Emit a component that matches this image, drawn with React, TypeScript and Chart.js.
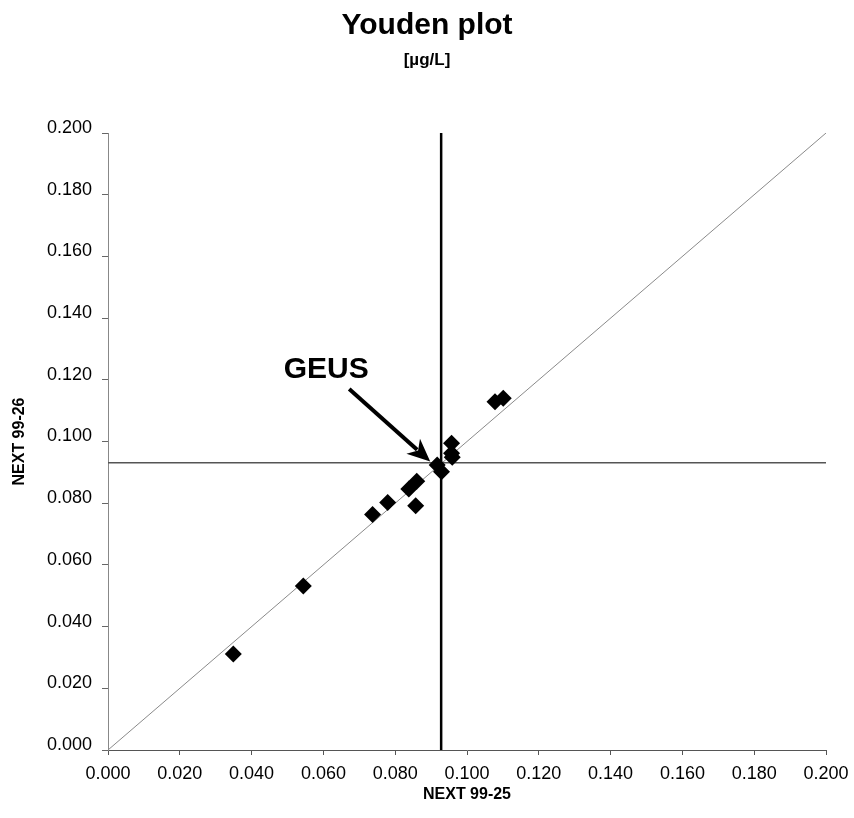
import React, { useEffect, useRef } from "react";
import { Chart, registerables } from "chart.js";

Chart.register(...registerables);

const titleText = "Youden plot";
const subtitleText = "[µg/L]";
const xAxisTitle = "NEXT 99-25";
const yAxisTitle = "NEXT 99-26";
const annotationText = "GEUS";

// Lab results: sample NEXT 99-25 (x) vs NEXT 99-26 (y)
const xValues = [0.0349, 0.0544, 0.0737, 0.0779, 0.0838, 0.086, 0.0857, 0.0917, 0.0929, 0.0957, 0.0957, 0.0959, 0.1078, 0.1101];
const yValues = [0.0311, 0.0532, 0.0763, 0.0802, 0.0846, 0.0871, 0.0792, 0.0924, 0.0902, 0.0994, 0.0962, 0.0949, 0.1129, 0.114];
const geusIndex = 7;

const axisMin = 0;
const axisMax = 0.2;
const tickStep = 0.02;

const referenceX = 0.0928;
const referenceY = 0.0931;

const FONT = '"Liberation Sans", Arial, Helvetica, sans-serif';

const arrowPlugin = {
  id: "geusArrow",
  afterDatasetsDraw(chart: any) {
    const meta = chart.getDatasetMeta(0);
    const pt = meta.data[geusIndex];
    if (!pt) return;
    const { x, y } = pt.getProps(["x", "y"], true);
    const ctx = chart.ctx;
    ctx.save();
    const sx = x - 88;
    const sy = y - 76;
    const tx = x - 7;
    const ty = y - 3.5;
    const ang = Math.atan2(ty - sy, tx - sx);
    const headLen = 25;
    const half = 0.42;
    ctx.strokeStyle = "#000";
    ctx.fillStyle = "#000";
    ctx.lineWidth = 4;
    ctx.beginPath();
    ctx.moveTo(sx, sy);
    ctx.lineTo(tx - Math.cos(ang) * headLen * 0.7, ty - Math.sin(ang) * headLen * 0.7);
    ctx.stroke();
    ctx.beginPath();
    ctx.moveTo(tx, ty);
    ctx.lineTo(tx - headLen * Math.cos(ang - half), ty - headLen * Math.sin(ang - half));
    ctx.lineTo(tx - headLen * 0.65 * Math.cos(ang), ty - headLen * 0.65 * Math.sin(ang));
    ctx.lineTo(tx - headLen * Math.cos(ang + half), ty - headLen * Math.sin(ang + half));
    ctx.closePath();
    ctx.fill();
    ctx.font = `bold 30px ${FONT}`;
    ctx.textAlign = "center";
    ctx.textBaseline = "middle";
    ctx.fillText(annotationText, x - 111, y - 95);
    ctx.restore();
  },
};

export default function App() {
  const canvasRef = useRef<HTMLCanvasElement | null>(null);

  useEffect(() => {
    if (!canvasRef.current) return;
    const points = xValues.map((v, i) => ({ x: v, y: yValues[i] }));
    const chart = new Chart(canvasRef.current, {
      type: "scatter",
      data: {
        datasets: [
          {
            label: "Labs",
            data: points,
            pointStyle: "rectRot",
            pointRadius: 8.5,
            pointBackgroundColor: "#000",
            pointBorderColor: "#000",
            pointBorderWidth: 0,
            showLine: false,
          },
          {
            label: "vertical",
            data: [
              { x: referenceX, y: axisMin },
              { x: referenceX, y: axisMax },
            ],
            showLine: true,
            borderColor: "#000",
            borderWidth: 2.5,
            pointRadius: 0,
          },
          {
            label: "horizontal",
            data: [
              { x: axisMin, y: referenceY },
              { x: axisMax, y: referenceY },
            ],
            showLine: true,
            borderColor: "#555",
            borderWidth: 1.5,
            pointRadius: 0,
          },
          {
            label: "diagonal",
            data: [
              { x: axisMin, y: axisMin },
              { x: axisMax, y: axisMax },
            ],
            showLine: true,
            borderColor: "#8a8a8a",
            borderWidth: 1,
            pointRadius: 0,
          },
        ],
      },
      options: {
        responsive: false,
        animation: false,
        devicePixelRatio: 1,
        layout: { padding: { top: 0, left: 0, right: 0, bottom: 0 } },
        plugins: {
          legend: { display: false },
          tooltip: { enabled: false },
          title: {
            display: true,
            text: titleText,
            color: "#000",
            font: { family: FONT, size: 30, weight: "bold", lineHeight: 1.2 },
            padding: { top: 7.5, bottom: 0 },
          },
          subtitle: {
            display: true,
            text: subtitleText,
            color: "#000",
            font: { family: FONT, size: 17, weight: "bold", lineHeight: 1.2 },
            padding: { top: 6.3, bottom: 62.8 },
          },
        },
        scales: {
          x: {
            type: "linear",
            min: axisMin,
            max: axisMax,
            border: { display: true, color: "#555", width: 1 },
            grid: { drawOnChartArea: false, drawTicks: true, tickLength: 5, color: "#555" },
            ticks: {
              stepSize: tickStep,
              color: "#000",
              padding: 8,
              maxRotation: 0,
              autoSkip: false,
              font: { family: FONT, size: 18 },
              callback: (v: any) => Number(v).toFixed(3),
            },
            title: {
              display: true,
              text: xAxisTitle,
              color: "#000",
              font: { family: FONT, size: 16, weight: "bold", lineHeight: 1.2 },
              padding: { top: 0, bottom: 13.4 },
            },
            afterFit: (scale: any) => {
              scale.height = 68;
              scale.paddingRight = 28;
            },
          },
          y: {
            type: "linear",
            min: axisMin,
            max: axisMax,
            border: { display: true, color: "#888", width: 1 },
            grid: { drawOnChartArea: false, drawTicks: true, tickLength: 6, color: "#666" },
            ticks: {
              stepSize: tickStep,
              color: "#000",
              padding: 10,
              labelOffset: -5,
              font: { family: FONT, size: 18 },
              callback: (v: any) => Number(v).toFixed(3),
            },
            title: {
              display: true,
              text: yAxisTitle,
              color: "#000",
              font: { family: FONT, size: 16, weight: "bold", lineHeight: 1.2 },
              padding: { top: 10, bottom: 0 },
            },
            afterFit: (scale: any) => {
              scale.width = 108;
            },
          },
        },
      },
      plugins: [arrowPlugin],
    });
    return () => chart.destroy();
  }, []);

  return (
    <div style={{ position: "absolute", left: 0, top: 0, width: 854, height: 818, background: "#fff" }}>
      <canvas ref={canvasRef} width={854} height={818} style={{ display: "block" }} />
    </div>
  );
}
